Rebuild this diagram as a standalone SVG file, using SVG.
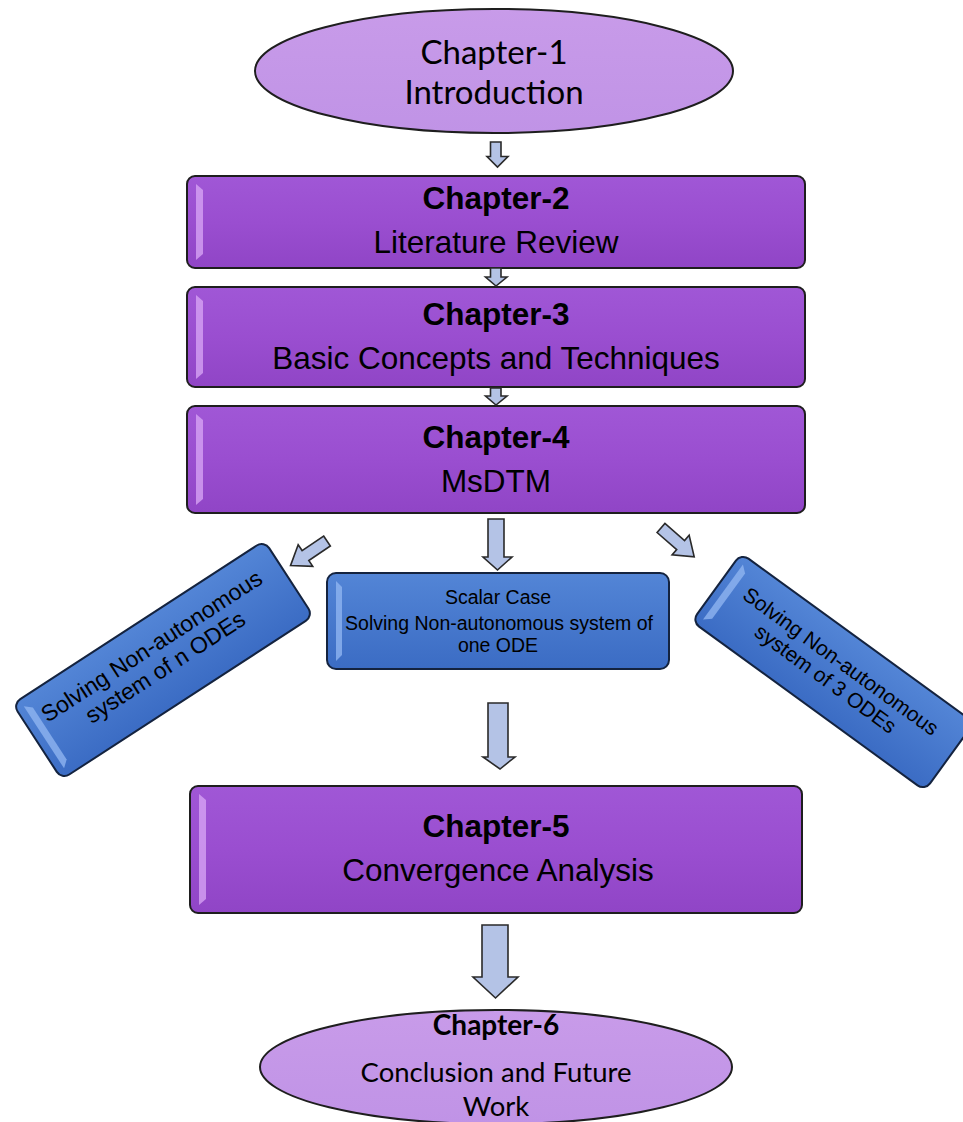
<svg xmlns="http://www.w3.org/2000/svg" width="963" height="1122" viewBox="0 0 963 1122">
<style>
.box{fill:url(#gPurple);stroke:#1e1e1e;stroke-width:2}
.ell{fill:url(#gLilac);stroke:#1e1e1e;stroke-width:2}
.blue{fill:url(#gBlue);stroke:#14233f;stroke-width:2}
.hl{fill:#d9a8f5;opacity:0.75}
.hlb{fill:#8fb4f0;opacity:0.8}
.arr{fill:#b4c3e6;stroke:#2a2a2a;stroke-width:1.6;stroke-linejoin:miter}
.t{font-family:"Liberation Sans",Arial,sans-serif;fill:#000;text-anchor:middle}
.tb{font-family:"Liberation Sans",Arial,sans-serif;font-weight:bold;fill:#000;text-anchor:middle}
.c{font-family:Lato,"Open Sans",sans-serif;fill:#000;text-anchor:middle}
.cb{font-family:Lato,"Open Sans",sans-serif;font-weight:bold;fill:#000;text-anchor:middle}
</style>
<defs>
<linearGradient id="gPurple" x1="0" y1="0" x2="0" y2="1">
<stop offset="0" stop-color="#a057d6"/><stop offset="0.5" stop-color="#9a4ed0"/><stop offset="1" stop-color="#9045c6"/>
</linearGradient>
<linearGradient id="gLilac" x1="0" y1="0" x2="0" y2="1">
<stop offset="0" stop-color="#c89be9"/><stop offset="1" stop-color="#c093e6"/>
</linearGradient>
<linearGradient id="gBlue" x1="0" y1="0" x2="0" y2="1">
<stop offset="0" stop-color="#5385d6"/><stop offset="1" stop-color="#3b6cc4"/>
</linearGradient>
</defs>
<rect width="963" height="1122" fill="#fff"/>

<g id="ch1">
<ellipse class="ell" cx="494" cy="71" rx="239" ry="62"/>
<text class="c" x="494" y="64" font-size="33">Chapter-1</text>
<text class="c" x="494" y="104" font-size="33">Introduction</text>
</g>

<g id="ch2">
<rect class="box" x="187" y="176" width="618" height="92" rx="8"/>
<path class="hl" d="M196 184 L203 190 L203 254 L196 260 Z"/>
<text class="tb" x="496" y="209" font-size="31.5">Chapter-2</text>
<text class="t" x="496" y="253" font-size="31.5">Literature Review</text>
</g>

<g id="ch3">
<rect class="box" x="187" y="287" width="618" height="100" rx="8"/>
<path class="hl" d="M196 295 L203 301 L203 373 L196 379 Z"/>
<text class="tb" x="496" y="325" font-size="31.5">Chapter-3</text>
<text class="t" x="496" y="369" font-size="31.5">Basic Concepts and Techniques</text>
</g>

<g id="ch4">
<rect class="box" x="187" y="406" width="618" height="107" rx="8"/>
<path class="hl" d="M196 414 L203 420 L203 499 L196 505 Z"/>
<text class="tb" x="496" y="448" font-size="31.5">Chapter-4</text>
<text class="t" x="496" y="492" font-size="31.5">MsDTM</text>
</g>

<g id="scalar">
<rect class="blue" x="327" y="573" width="342" height="96" rx="9"/>
<path class="hlb" d="M336 581 L342 587 L342 655 L336 661 Z"/>
<text class="t" x="498" y="604" font-size="19.5">Scalar Case</text>
<text class="t" x="499" y="630" font-size="19.5">Solving Non-autonomous system of</text>
<text class="t" x="498" y="652" font-size="19.5">one ODE</text>
</g>

<g id="nodes-left" transform="translate(163 660) rotate(-33)">
<rect class="blue" x="-150" y="-45" width="300" height="90" rx="9"/>
<path class="hlb" d="M-142 -37 L-135 -31 L-135 31 L-142 37 Z"/>
<text class="t" x="-2" y="-10" font-size="23">Solving Non-autonomous</text>
<text class="t" x="-2" y="15" font-size="23">system of n ODEs</text>
</g>

<g id="nodes-right" transform="translate(833 672) rotate(36)">
<rect class="blue" x="-144" y="-42" width="288" height="84" rx="9"/>
<path class="hlb" d="M-136 -34 L-129 -28 L-129 28 L-136 34 Z"/>
<text class="t" x="0" y="-6" font-size="21">Solving Non-autonomous</text>
<text class="t" x="-2" y="17" font-size="21">system of  3 ODEs</text>
</g>

<g id="ch5">
<rect class="box" x="190" y="786" width="612" height="127" rx="8"/>
<path class="hl" d="M199 794 L206 800 L206 899 L199 905 Z"/>
<text class="tb" x="496" y="837" font-size="31.5">Chapter-5</text>
<text class="t" x="498" y="881" font-size="31.5">Convergence Analysis</text>
</g>

<g id="ch6">
<ellipse class="ell" cx="496" cy="1067" rx="236" ry="57"/>
<text class="cb" x="496" y="1035" font-size="28">Chapter-6</text>
<text class="c" x="496" y="1082" font-size="27.5">Conclusion and Future</text>
<text class="c" x="496" y="1116" font-size="27.5">Work</text>
</g>

<g id="connectors">
<path class="arr" d="M490.5 142 H501 V156.5 H508 L497.5 167 L487 156.5 H490.5 Z"/>
<path class="arr" d="M490.5 268 H501 V277 H507 L496 286 L485.5 277 H490.5 Z"/>
<path class="arr" d="M490.5 388 H501 V396 H507 L496 405 L485.5 396 H490.5 Z"/>
<path class="arr" d="M488 519 H504 V557 H512 L497.5 570 L483 557 H488 Z"/>
<path class="arr" d="M488 703 H508 V757 H515 L500 769 L483 757 H488 Z"/>
<path class="arr" d="M482 925 H508 V977 H518 L495.5 998 L473 977 H482 Z"/>
<path class="arr" transform="translate(327 541) rotate(56)" d="M-6 0 H6 V26 H13 L0 44 L-13 26 H-6 Z"/>
<path class="arr" transform="translate(661 528) rotate(-49)" d="M-6 0 H6 V26 H13 L0 44 L-13 26 H-6 Z"/>
</g>
</svg>
